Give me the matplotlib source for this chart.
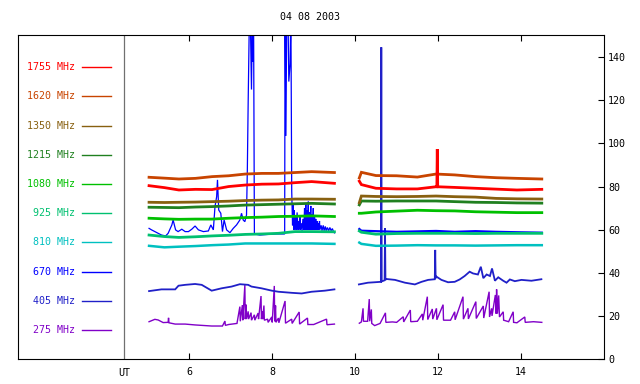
import numpy as np
import matplotlib
matplotlib.use('Agg')
import matplotlib.pyplot as plt
from matplotlib.transforms import blended_transform_factory

plt.rcParams['font.family'] = ['DejaVu Sans Mono', 'DejaVu Sans']
plt.rcParams['font.size'] = 7.2

title = '04 08 2003'

# legend order, top to bottom
labels = ['1755 MHz', '1620 MHz', '1350 MHz', '1215 MHz', '1080 MHz',
          '925 MHz', '810 MHz', '670 MHz', '405 MHz', '275 MHz']
colors = ['#ff0000', '#c84400', '#886010', '#208020', '#00c000',
          '#00c070', '#00c0c0', '#0000ff', '#2020c8', '#8000c8']

# common times for the smooth series (UT hours)
t_a = [5.03, 5.4, 5.75, 6.15, 6.55, 6.95, 7.35, 7.75, 8.15, 8.55, 8.95, 9.5]
t_b = [10.1, 10.15, 10.5, 11.0, 11.5, 11.95, 12.4, 12.9, 13.4, 13.9, 14.5]

f1620_a = [84.3, 83.9, 83.5, 83.8, 84.6, 85.0, 85.8, 86.1, 86.1, 86.5, 86.9, 86.5]
f1620_b = [84.0, 86.6, 85.1, 85.0, 84.4, 85.8, 85.4, 84.6, 84.1, 83.8, 83.5]
f1350_a = [72.7, 72.6, 72.7, 72.8, 73.0, 73.2, 73.5, 73.7, 73.8, 74.2, 74.2, 74.1]
f1350_b = [72.5, 75.6, 75.4, 75.3, 75.4, 75.6, 75.3, 75.1, 74.5, 74.3, 74.2]
f1215_a = [70.4, 70.3, 70.2, 70.5, 70.7, 71.0, 71.4, 71.6, 71.8, 72.0, 72.2, 71.9]
f1215_b = [71.5, 73.3, 73.2, 73.3, 73.3, 73.3, 73.0, 72.7, 72.6, 72.4, 72.3]
f1080_a = [65.3, 65.0, 64.8, 64.9, 64.9, 65.3, 65.6, 65.8, 66.1, 66.2, 66.4, 66.1]
f1080_b = [67.6, 67.6, 68.2, 68.6, 69.0, 68.8, 68.7, 68.3, 68.1, 67.9, 67.9]
f925_a = [57.5, 56.8, 56.4, 56.7, 57.1, 57.4, 57.8, 58.0, 58.3, 59.1, 59.1, 59.0]
f925_b = [59.4, 58.8, 57.9, 58.2, 58.3, 58.3, 58.3, 58.2, 58.3, 58.3, 58.3]
f810_a = [52.5, 51.8, 52.1, 52.4, 52.8, 53.1, 53.6, 53.6, 53.6, 53.6, 53.6, 53.4]
f810_b = [54.0, 53.4, 52.5, 52.6, 52.8, 52.7, 52.7, 52.6, 52.7, 52.8, 52.8]

# 1755 has a spike near 12 UT
f1755_a = [80.4, 79.5, 78.4, 78.7, 78.6, 80.0, 80.7, 81.1, 81.2, 81.8, 82.3, 81.5]
t1755_b = [10.1, 10.15, 10.5, 11.0, 11.5, 11.95, 11.97, 11.98, 11.99, 12.4, 12.9, 13.4, 13.9, 14.5]
f1755_b = [82.5, 80.9, 79.2, 78.9, 78.9, 79.9, 79.9, 97.4, 79.9, 79.6, 79.2, 78.8, 78.4, 78.7]

# 670 MHz, burst day
t670_a = [5.03, 5.09, 5.17, 5.25, 5.33, 5.43, 5.49, 5.58, 5.61, 5.67, 5.73, 5.82,
          5.90, 5.98, 6.06, 6.14, 6.22, 6.34, 6.46, 6.52, 6.58, 6.62, 6.66, 6.68,
          6.71, 6.76, 6.80, 6.84, 6.90, 6.98, 7.06, 7.14, 7.22, 7.26, 7.30, 7.34,
          7.38, 7.40, 7.42, 7.45, 7.47, 7.50, 7.52, 7.53, 7.55, 7.57, 7.7, 7.9,
          8.1, 8.25, 8.30, 8.31, 8.33, 8.35, 8.38, 8.40, 8.43, 8.45,
          8.47, 8.49, 8.50, 8.52, 8.53, 8.55, 8.57, 8.58, 8.60, 8.62, 8.63, 8.65,
          8.67, 8.68, 8.70, 8.72, 8.74, 8.76, 8.78, 8.79, 8.81, 8.82, 8.84, 8.85,
          8.87, 8.88, 8.90, 8.91, 8.93, 8.94, 8.96, 8.97, 8.99, 9.00, 9.02, 9.03,
          9.05, 9.06, 9.08, 9.09, 9.11, 9.12, 9.14, 9.15, 9.18, 9.20, 9.23, 9.25,
          9.28, 9.30, 9.33, 9.36, 9.39, 9.42, 9.45, 9.48, 9.50]
f670_a = [60.6, 59.9, 59.1, 58.3, 57.5, 57.1, 58.3, 62.2, 64.5, 59.9, 59.1, 60.2,
          59.1, 59.1, 60.2, 61.7, 59.9, 59.1, 59.4, 62.2, 59.9, 70.7, 75.3, 83.1,
          69.1, 67.6, 59.1, 64.5, 59.9, 58.6, 60.6, 62.2, 64.5, 67.6, 64.5, 63.7,
          66.8, 87.7, 119.0, 160.0, 160.0, 125.0, 160.0, 138.0, 160.0, 58.0, 57.5, 57.8,
          58.0, 58.0, 58.0, 160.0, 103.5, 160.0, 160.0, 128.7, 137.0, 160.0,
          78.0, 62.0, 72.0, 60.0, 69.0, 60.0, 66.0, 60.0, 68.0, 60.0, 64.0, 60.0,
          66.0, 60.0, 63.0, 59.5, 65.0, 60.0, 70.0, 60.0, 72.0, 60.0, 69.0, 60.0,
          73.0, 60.0, 68.0, 60.0, 71.0, 60.0, 67.0, 60.0, 70.0, 60.0, 66.0, 60.0,
          65.0, 60.0, 64.0, 60.0, 63.0, 60.0, 64.0, 60.0, 62.0, 59.5, 62.0, 59.5,
          61.5, 59.5, 61.0, 59.5, 61.0, 59.5, 60.5, 59.0, 58.5]
f670_b = [60.3, 59.5, 59.3, 59.0, 59.2, 59.4, 59.0, 59.3, 59.0, 58.8, 58.6]

# 405 MHz
t405_a = [5.03, 5.33, 5.66, 5.74, 5.90, 6.14, 6.30, 6.54, 6.78, 7.02, 7.22, 7.42,
          7.50, 7.74, 7.99, 8.15, 8.47, 8.71, 8.95, 9.27, 9.50]
f405_a = [31.5, 32.3, 32.3, 34.0, 34.4, 34.8, 34.4, 31.7, 32.8, 33.6, 34.7, 34.4,
          33.6, 32.8, 31.7, 31.2, 30.7, 30.4, 31.2, 31.7, 32.3]
t405_b = [10.09, 10.31, 10.47, 10.62, 10.63, 10.64, 10.71, 10.72, 10.73, 10.76, 10.96,
          11.20, 11.44, 11.60, 11.76, 11.92, 11.93, 11.94, 11.96, 12.08, 12.24, 12.40,
          12.52, 12.64, 12.76, 12.84, 12.96, 13.03, 13.09, 13.17, 13.25, 13.30, 13.37,
          13.45, 13.57, 13.65, 13.73, 13.85, 14.01, 14.25, 14.49]
f405_b = [34.6, 35.4, 35.6, 35.8, 144.6, 36.0, 36.5, 60.6, 36.8, 37.1, 36.7,
          35.4, 34.6, 35.8, 36.7, 37.0, 50.6, 37.5, 38.2, 36.7, 35.6, 35.8,
          36.9, 38.5, 40.5, 39.7, 39.2, 42.8, 37.5, 39.2, 38.5, 42.0, 36.3,
          37.9, 36.3, 35.4, 36.9, 36.1, 36.7, 36.3, 37.0]

# 275 MHz, spiky
t275_a = [5.03, 5.17, 5.25, 5.37, 5.49, 5.50, 5.51, 5.66, 5.90, 6.14, 6.54, 6.80,
          6.86, 6.87, 6.95, 7.15, 7.22, 7.23, 7.28, 7.29, 7.34, 7.35, 7.37, 7.38,
          7.42, 7.43, 7.49, 7.50, 7.57, 7.58, 7.66, 7.67, 7.73, 7.74, 7.76, 7.77,
          7.80, 7.81, 7.89, 7.90, 7.99, 8.00, 8.05, 8.06, 8.08, 8.09, 8.15, 8.16,
          8.31, 8.32, 8.47, 8.48, 8.65, 8.66, 8.85, 8.86, 9.00, 9.31, 9.32, 9.50]
f275_a = [17.3, 18.4, 18.1, 16.9, 17.0, 19.1, 16.8, 16.2, 16.2, 15.8, 15.3, 15.3,
          17.6, 15.6, 16.0, 16.5, 24.3, 17.5, 25.0, 18.0, 34.3, 18.5, 25.2, 18.5,
          22.1, 18.5, 21.5, 18.0, 20.5, 18.0, 21.3, 18.5, 29.2, 18.5, 22.0, 18.5,
          24.8, 18.0, 18.5, 17.0, 19.5, 17.0, 33.9, 17.5, 24.8, 17.0, 19.0, 16.8,
          26.9, 16.6, 18.5, 16.5, 21.8, 16.2, 19.0, 16.0, 16.0, 18.5, 15.9, 16.2]
t275_b = [10.10, 10.15, 10.19, 10.20, 10.30, 10.34, 10.35, 10.39, 10.40, 10.47, 10.60,
          10.73, 10.74, 10.90, 11.00, 11.16, 11.17, 11.33, 11.34, 11.50, 11.62, 11.63,
          11.74, 11.75, 11.86, 11.87, 11.96, 11.97, 12.12, 12.13, 12.30, 12.40, 12.41,
          12.60, 12.61, 12.72, 12.73, 12.91, 12.92, 13.09, 13.10, 13.23, 13.24, 13.29,
          13.30, 13.38, 13.40, 13.41, 13.43, 13.46, 13.48, 13.57, 13.58, 13.70, 13.81,
          13.82, 13.90, 14.09, 14.10, 14.30, 14.50]
f275_b = [16.6, 17.2, 23.5, 17.5, 17.5, 27.8, 17.5, 23.0, 16.5, 15.5, 16.5,
          21.4, 17.0, 17.2, 17.0, 19.6, 17.2, 22.7, 17.3, 17.5, 20.9, 18.0,
          28.9, 18.3, 23.2, 18.5, 23.5, 18.2, 25.2, 18.0, 18.0, 21.9, 18.2,
          28.9, 18.5, 23.5, 18.6, 26.6, 18.8, 24.6, 19.0, 31.2, 19.5, 23.5,
          20.0, 29.7, 21.0, 32.3, 21.0, 29.5, 19.5, 21.9, 18.0, 17.3, 21.9,
          17.0, 16.8, 19.5, 17.0, 17.3, 17.0]

# (times, values, label index, linewidth), drawn low frequency first
series = [
    (t275_a, f275_a, 9, 1.0), (t275_b, f275_b, 9, 1.0),
    (t405_a, f405_a, 8, 1.3), (t405_b, f405_b, 8, 1.3),
    (t670_a, f670_a, 7, 0.9), (t_b, f670_b, 7, 1.6),
    (t_a, f810_a, 6, 1.8), (t_b, f810_b, 6, 1.8),
    (t_a, f925_a, 5, 2.0), (t_b, f925_b, 5, 2.0),
    (t_a, f1080_a, 4, 2.0), (t_b, f1080_b, 4, 2.0),
    (t_a, f1215_a, 3, 2.0), (t_b, f1215_b, 3, 2.0),
    (t_a, f1350_a, 2, 2.0), (t_b, f1350_b, 2, 2.0),
    (t_a, f1620_a, 1, 2.0), (t_b, f1620_b, 1, 2.0),
    (t_a, f1755_a, 0, 2.0), (t1755_b, f1755_b, 0, 2.0),
]

fig = plt.figure(figsize=(6.4, 3.84), dpi=100)
ax = fig.add_axes([18/640, 25/384, 586/640, 324/384])

for t, v, k, lw in series:
    ax.plot(t, v, color=colors[k], lw=lw, solid_joinstyle='miter')

ax.set_xlim(1.87, 16.0)
ax.set_ylim(0, 150.3)

# separator between legend area and data
ax.axvline(4.434, color='#707070', lw=0.9)

ax.set_xticks([6, 8, 10, 12, 14])
ax.set_yticks(range(0, 141, 20))
ax.yaxis.tick_right()
ax.tick_params(axis='x', direction='in', length=4, width=0.8, top=True, bottom=True, pad=6)
ax.tick_params(axis='y', direction='in', length=4, width=0.8, left=False, right=True, pad=3)
for s in ax.spines.values():
    s.set_linewidth(0.8)

trans = blended_transform_factory(ax.transData, ax.transAxes)
ax.text(4.434, -0.028, 'UT', transform=trans, ha='center', va='top')

# legend at the left
for i, lab in enumerate(labels):
    y = 0.9003 - i * 0.0901
    ax.text(0.0973, y, lab, transform=ax.transAxes, ha='right', va='center', color=colors[i])
    ax.plot([0.1092, 0.1582], [y, y], transform=ax.transAxes, color=colors[i], lw=1.0)

fig.text(310.5/640, 1 - 17.5/384, title, ha='center', va='center')

fig.savefig('out.png', dpi=100)
